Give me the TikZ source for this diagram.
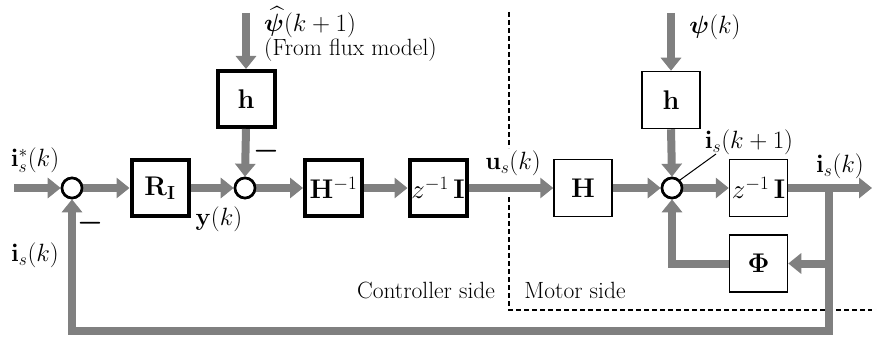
\RequirePackage{fix-cm}
\documentclass[tikz,border=0pt]{standalone}
\usepackage{amsmath,bm}
\usetikzlibrary{arrows.meta,calc}
\definecolor{sigray}{RGB}{128,128,128}
\begin{document}
\begin{tikzpicture}[x=1pt,y=-1pt,
  txt/.style={inner sep=0pt,font=\fontsize{23.5}{28}\selectfont},
  mtxt/.style={inner sep=0pt,font=\fontsize{25}{30}\selectfont},
  minus/.style={inner sep=0pt,font=\fontsize{29}{34}\selectfont},
  blk/.style={draw,line width=4pt,minimum width=57pt,minimum height=56pt,inner sep=0pt,font=\fontsize{27}{32}\selectfont},
  wblk/.style={draw,line width=1.5pt,minimum width=58pt,minimum height=57pt,inner sep=0pt,font=\fontsize{27}{32}\selectfont},
  sumc/.style={circle,draw,line width=2.6pt,minimum size=20pt,inner sep=0pt,fill=white},
  sig/.style={draw=sigray,line width=8pt,-{Triangle[width=20pt,length=13pt]}},
  bound/.style={draw=black,line width=1.4pt,dash pattern=on 5pt off 3pt}]
\path[use as bounding box] (0,0) rectangle (872,337);

% nodes
\node[sumc] (s1) at (72,188) {};
\node[blk] (ri) at (160,188) {$\mathbf{R}_{\mathbf{I}}$};
\node[sumc] (s2) at (245,188) {};
\node[blk] (h1) at (246,99) {$\mathbf{h}$};
\node[blk] (hinv) at (333.5,188) {$\mathbf{H}^{-1}$};
\node[blk] (z1) at (438,188) {$z^{-1}\,\mathbf{I}$};
\node[wblk] (H) at (583,188) {$\mathbf{H}$};
\node[sumc] (s3) at (672,188) {};
\node[wblk] (h2) at (671,100) {$\mathbf{h}$};
\node[wblk] (z2) at (758.5,188) {$z^{-1}\,\mathbf{I}$};
\node[wblk] (phi) at (758.5,263.5) {$\boldsymbol{\Phi}$};

\coordinate (in1) at (14,188);
\coordinate (top1) at (246,13);
\coordinate (top2) at (671,13);
\coordinate (out) at (872,188);
\coordinate (b) at (829,188);
\coordinate (bp) at (829,263.5);
\coordinate (bl) at (829,331);
\coordinate (le) at (716,154);

% boundary
\coordinate (d1) at (509,12);
\coordinate (d2) at (509,148);
\coordinate (d3) at (509,197);
\coordinate (d4) at (509,310);
\coordinate (d5) at (872,310);
\draw[bound] (d1) -- (d2);
\draw[bound] (d3) -- (d4) -- (d5);

% signals
\draw[sig] (in1) -- (s1.west);
\draw[sig] (s1.east) -- (ri.west);
\draw[sig] (ri.east) -- (s2.west);
\draw[sig] (top1) -- (h1.north);
\draw[sig] (h1.south) -- (s2.north);
\draw[sig] (s2.east) -- (hinv.west);
\draw[sig] (hinv.east) -- (z1.west);
\draw[sig] (z1.east) -- (H.west);
\draw[sig] (H.east) -- (s3.west);
\draw[sig] (top2) -- (h2.north);
\draw[sig] (h2.south) -- (s3.north);
\draw[sig] (s3.east) -- (z2.west);
\draw[sig] (z2.east) -- (out);
\draw[sig] (bp) -- (phi.east);
\draw[sig] (phi.west) -| (s3.south);
\draw[sig] (b) -- (bl) -| (s1.south);
\node[sumc] at (s1) {};
\node[sumc] at (s2) {};
\node[sumc] at (s3) {};

\draw[line width=1pt] (s3.45) -- (le);

% labels
\node[mtxt] (l1) at (35,160) {$\mathbf{i}_s^{*}(k)$};
\node[mtxt] (l2) at (35,255) {$\mathbf{i}_s(k)$};
\node[minus] (m1) at (90,223) {$\boldsymbol{-}$};
\node[minus] (m2) at (266,151) {$\boldsymbol{-}$};
\node[mtxt] (ly) at (219,219) {$\mathbf{y}(k)$};
\node[mtxt,anchor=west] (lpsi) at (264,22) {$\widehat{\boldsymbol{\psi}}(k+1)$};
\node[txt,anchor=west] (lfm) at (264,50) {(From flux model)};
\node[mtxt] (lu) at (513,163) {$\mathbf{u}_s(k)$};
\node[txt] (lc) at (426,290) {Controller side};
\node[txt] (lm) at (575,290) {Motor side};
\node[mtxt] (lpsi2) at (715,27) {$\boldsymbol{\psi}(k)$};
\node[mtxt] (lis1) at (749,142) {$\mathbf{i}_s(k+1)$};
\node[mtxt] (lis) at (840,166) {$\mathbf{i}_s(k)$};
\end{tikzpicture}
\end{document}
